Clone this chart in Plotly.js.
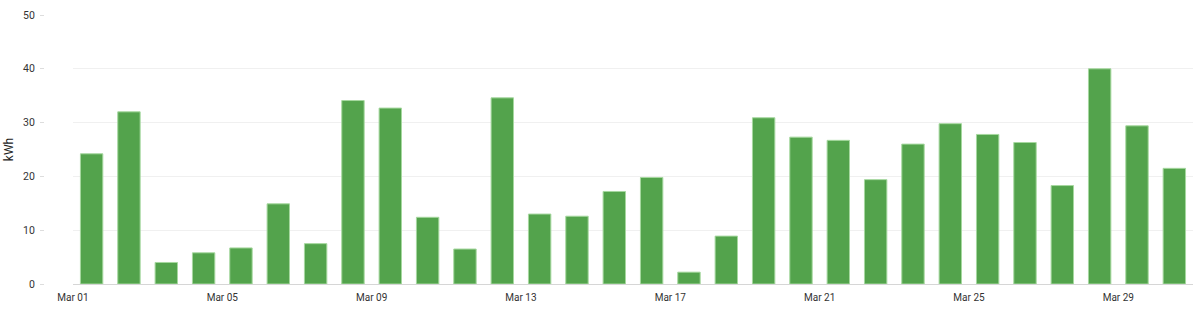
<!DOCTYPE html>
<html>
<head>
<meta charset="utf-8">
<script src="https://cdn.plot.ly/plotly-3.0.1.min.js"></script>
<style>
  html, body { margin: 0; padding: 0; background: #fff; }
  #chart { width: 1200px; height: 310px; }
</style>
</head>
<body>
<div id="chart"></div>
<script>
const days = [
  "2024-03-01","2024-03-02","2024-03-03","2024-03-04","2024-03-05","2024-03-06",
  "2024-03-07","2024-03-08","2024-03-09","2024-03-10","2024-03-11","2024-03-12",
  "2024-03-13","2024-03-14","2024-03-15","2024-03-16","2024-03-17","2024-03-18",
  "2024-03-19","2024-03-20","2024-03-21","2024-03-22","2024-03-23","2024-03-24",
  "2024-03-25","2024-03-26","2024-03-27","2024-03-28","2024-03-29","2024-03-30"
];
const energyKWh = [
  24.2, 32.0, 4.0, 5.8, 6.7, 14.9, 7.5, 34.1, 32.7, 12.4,
  6.5, 34.6, 13.0, 12.6, 17.2, 19.8, 2.2, 8.9, 30.9, 27.3,
  26.7, 19.4, 26.0, 29.8, 27.8, 26.3, 18.3, 40.0, 29.4, 21.5
];
const xRange = ["2024-03-01", "2024-03-31"];
const yTicks = [0, 10, 20, 30, 40, 50];
const yTitle = "kWh";

const trace = {
  type: "bar",
  x: days,
  y: energyKWh,
  xperiod: 86400000,
  xperiodalignment: "middle",
  marker: {
    color: "#53a34c",
    line: { color: "#a6d89f", width: 1 }
  },
  hoverinfo: "x+y"
};

const layout = {
  width: 1200,
  height: 310,
  margin: { l: 44, r: 7, t: 15, b: 26 },
  paper_bgcolor: "#fff",
  plot_bgcolor: "#fff",
  showlegend: false,
  bargap: 0.4,
  font: { family: "Roboto, sans-serif", size: 10, color: "#333" },
  xaxis: {
    type: "date",
    domain: [0.0252, 1],
    range: xRange,
    tick0: "2024-03-01",
    dtick: 4 * 86400000,
    tickformat: "%b %d",
    showgrid: false,
    zeroline: false,
    showline: false,
    ticks: "",
    ticklabelstandoff: 6,
    tickfont: { family: "Roboto, sans-serif", size: 10, color: "#333" }
  },
  yaxis: {
    anchor: "free",
    position: 0,
    range: [0, 50],
    tickvals: yTicks,
    ticks: "outside",
    ticklen: 4,
    tickcolor: "#ddd",
    ticklabelstandoff: 3,
    gridcolor: "#f0f0f0",
    zeroline: true,
    zerolinecolor: "#d6d6d6",
    zerolinewidth: 1,
    showline: false,
    tickfont: { family: "Roboto, sans-serif", size: 10.5, color: "#333" },
    title: { text: yTitle, font: { family: "Roboto, sans-serif", size: 12, color: "#222" }, standoff: 5 },
    automargin: false
  }
};

Plotly.newPlot("chart", [trace], layout, { displayModeBar: false, staticPlot: true });
</script>
</body>
</html>
